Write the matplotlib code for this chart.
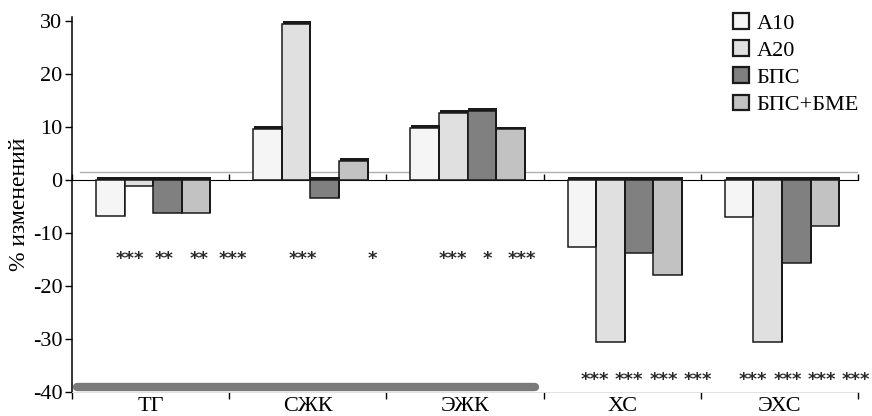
import numpy as np
import matplotlib
matplotlib.use("Agg")
import matplotlib.pyplot as plt

plt.rcParams['font.family'] = ['Liberation Serif', 'DejaVu Serif']
plt.rcParams['axes.unicode_minus'] = False

# данные (% изменений)
categories = ["ТГ", "СЖК", "ЭЖК", "ХС", "ЭХС"]
series = ["А10", "А20", "БПС", "БПС+БМЕ"]
a10 = [-6.8, 9.6, 9.8, -12.7, -7.1]
a20 = [-1.2, 29.5, 12.6, -30.6, -30.6]
bps = [-6.3, -3.4, 13.0, -13.9, -15.7]
bps_bme = [-6.3, 3.6, 9.5, -18.0, -8.7]
# значимость отличий
stars_a10 = ["***", "", "", "***", "***"]
stars_a20 = ["**", "***", "***", "***", "***"]
stars_bps = ["**", "", "*", "***", "***"]
stars_bps_bme = ["***", "*", "***", "***", "***"]

values = [a10, a20, bps, bps_bme]
stars = [stars_a10, stars_a20, stars_bps, stars_bps_bme]
colors = ['#f5f5f5', '#e0e0e0', '#808080', '#c2c2c2']

fig = plt.figure(figsize=(8.72, 4.16), dpi=100)
ax = fig.add_axes([0.0826, 0.0584, 0.9014, 0.9016])

ymin, ymax = -40, 30.8
w = 0.182  # ширина столбика
x = np.arange(len(categories))
depth = 0.55  # "толщина" верхней грани (псевдо-3D)

# задняя линия "пола"
ax.axhline(1.4, color='#b0b0b0', lw=1.0, zorder=1, xmin=0.01, xmax=1.0)

for i, (vals, col, lab) in enumerate(zip(values, colors, series)):
    xs = x + (i - 1.5) * w + 0.016
    vals = np.array(vals)
    ax.bar(xs, vals, width=w, color=col, edgecolor='#1a1a1a', lw=1.1,
           label=lab, zorder=3)
    tops = np.where(vals > 0, vals, 0)
    ax.bar(xs + 0.006, depth, bottom=tops, width=w, color='#1a1a1a',
           lw=0, zorder=4)
    # правая грань
    ax.bar(xs + w / 2, vals, width=0.012, color='#1a1a1a', lw=0, zorder=4)

# звёздочки значимости
spread = 1.2
shift = [1.0, 0.35, 0.1, 0.75, 0.8]
star_y = [-15.0, -15.0, -15.0, -37.7, -37.7]
for g in range(len(categories)):
    for i in range(len(series)):
        s = stars[i][g]
        if not s:
            continue
        sx = x[g] + 0.016 + (spread * (i - 1.5) + shift[g]) * w
        ax.text(sx, star_y[g], s, ha='center', va='center', fontsize=13,
                family='DejaVu Sans', fontweight='bold', color='#2a2a2a')

ax.set_xlim(-0.5, len(categories) - 0.5)
ax.set_ylim(ymin, ymax)
ax.set_yticks(np.arange(-40, 31, 10))
ax.tick_params(axis='y', labelsize=16, length=5, width=1, direction='out', pad=2)

# категории внизу, засечки на границах групп
ax.set_xticks(x)
ax.set_xticklabels(categories, fontsize=16)
ax.tick_params(axis='x', length=0, pad=4)
ax.set_xticks(np.arange(-0.5, len(categories)), minor=True)
ax.tick_params(axis='x', which='minor', length=5, width=1, direction='out')

# линия нуля с засечками
zero_loc = (0 - ymin) / (ymax - ymin)
sec = ax.secondary_xaxis(zero_loc)
sec.set_xticks(np.arange(-0.5, len(categories)))
sec.set_xticklabels([])
sec.tick_params(length=4, width=1, direction='out')
sec.spines['bottom'].set_linewidth(1.1)

for side in ['top', 'right']:
    ax.spines[side].set_visible(False)
ax.spines['left'].set_linewidth(1.1)
ax.spines['bottom'].set_linewidth(0.6)
ax.spines['bottom'].set_color('#dddddd')

# серая полоса внизу (как на исходнике)
ax.axhline(-39.2, xmin=0.006, xmax=0.589, lw=6, color='#7a7a7a',
           solid_capstyle='round', zorder=5)

ax.set_ylabel('% изменений', fontsize=17, labelpad=2)

leg = fig.legend(loc='upper left', bbox_to_anchor=(733 / 872, 1 - 13 / 416),
                 frameon=False, fontsize=16, handlelength=0.7, handleheight=0.7,
                 handletextpad=0.35, labelspacing=0.3, borderaxespad=0,
                 borderpad=0)
for h in leg.legend_handles:
    h.set_linewidth(1.6)

fig.savefig('out.png', dpi=100)
